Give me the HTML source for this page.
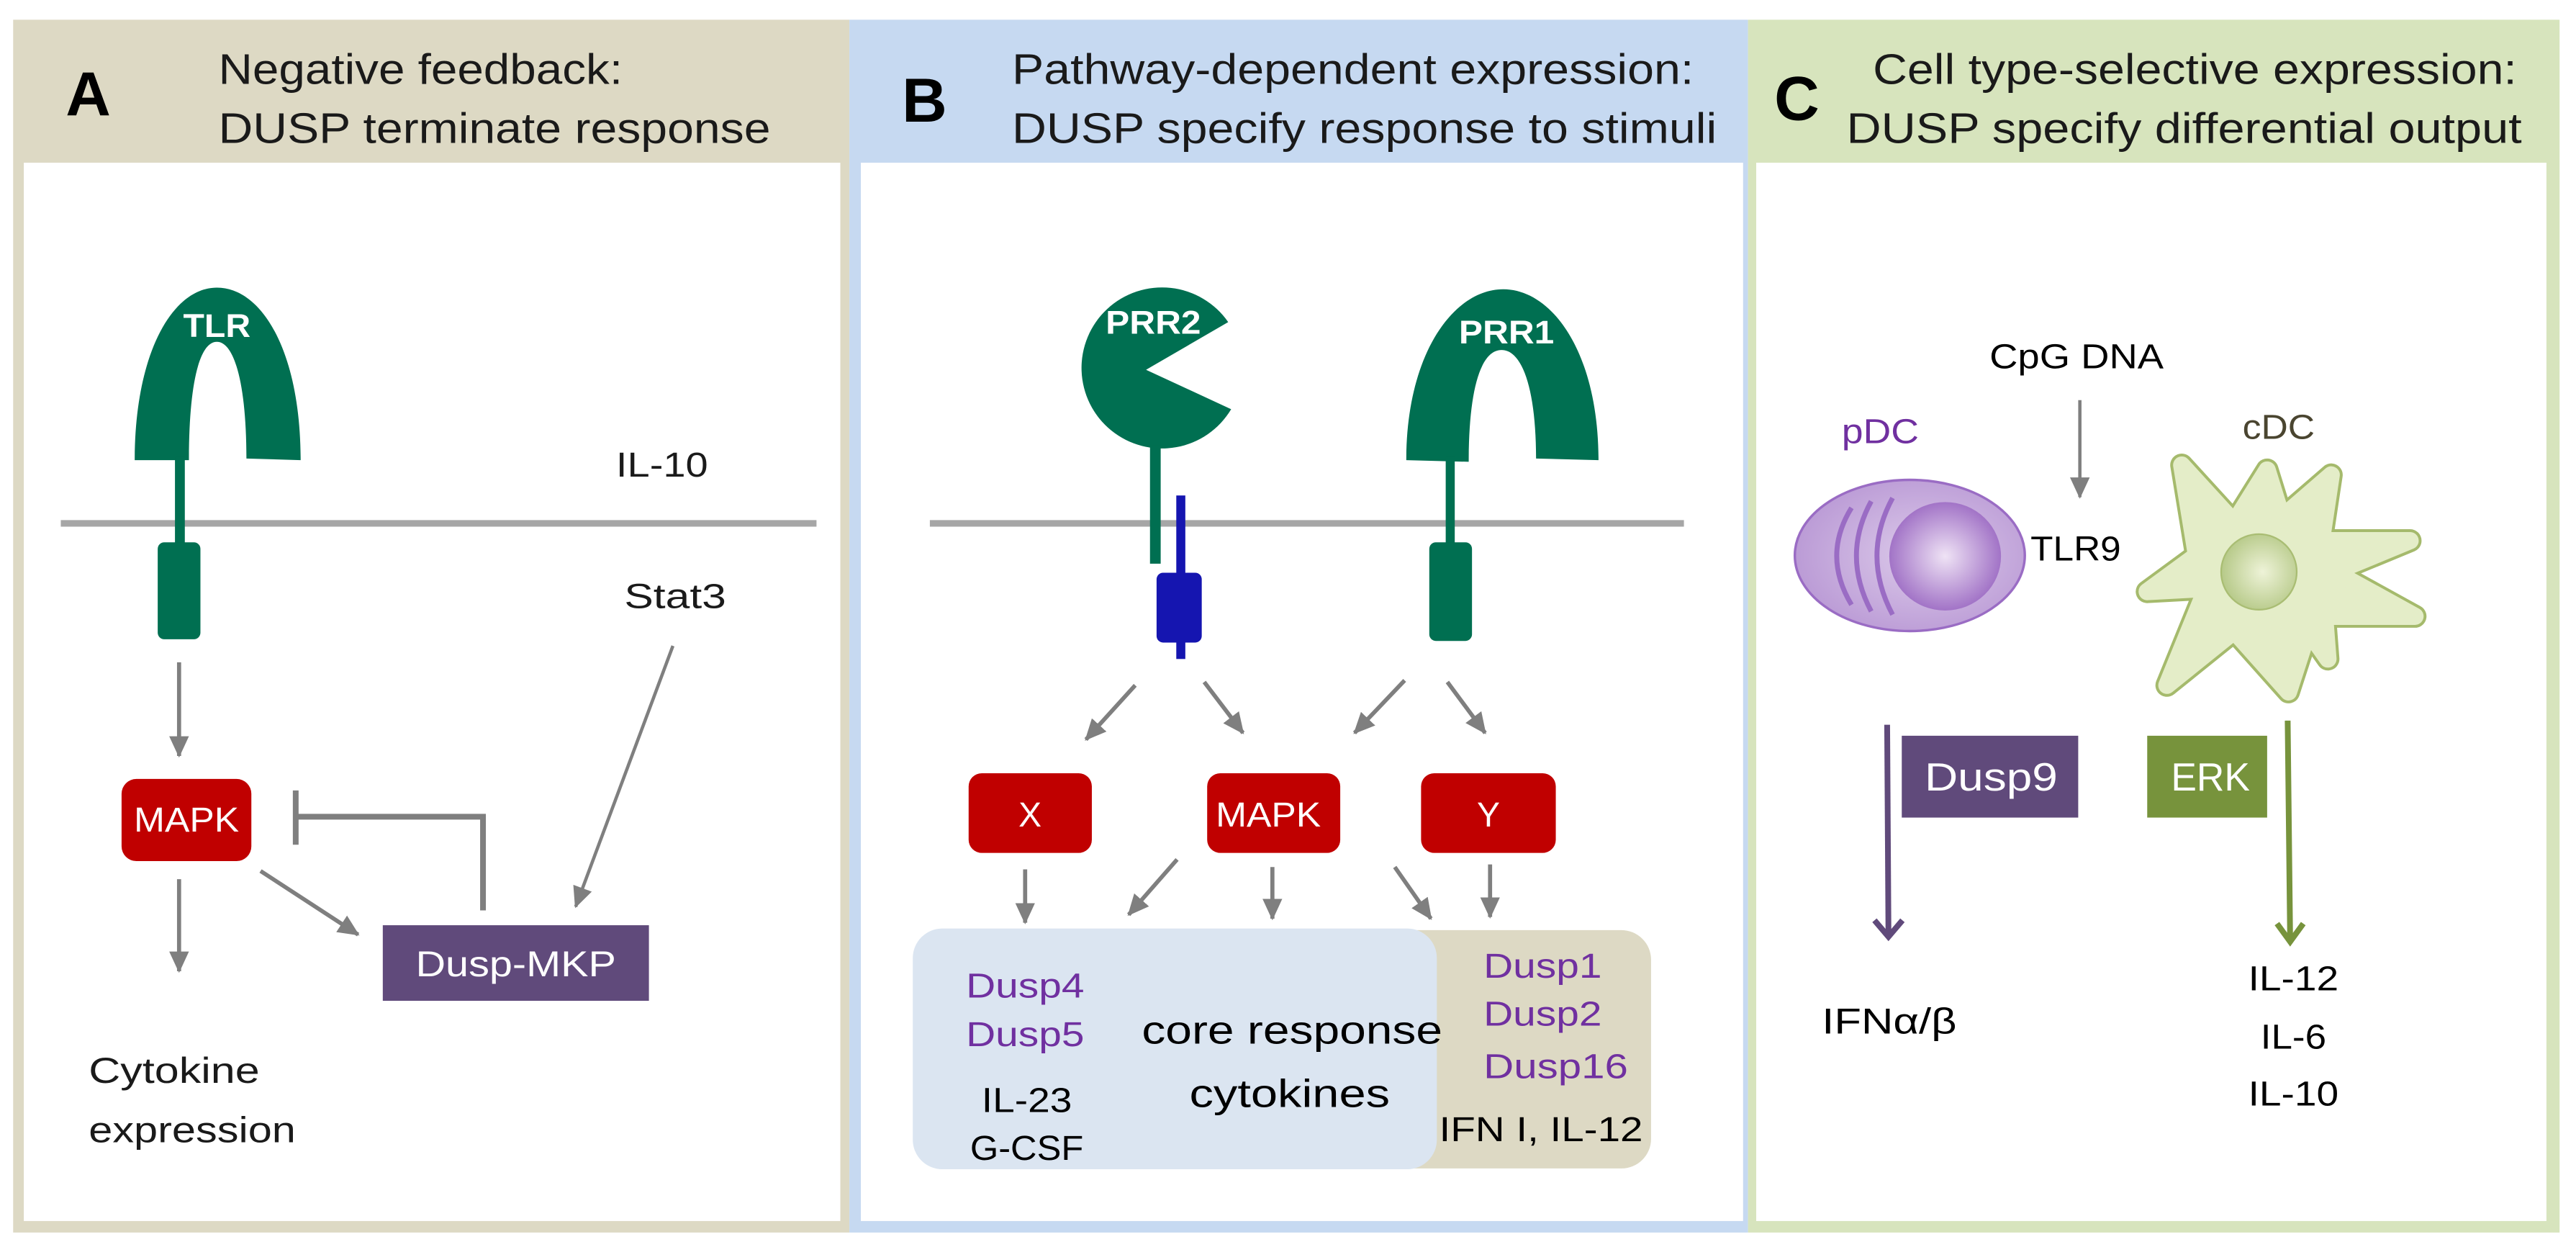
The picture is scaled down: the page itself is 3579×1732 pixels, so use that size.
<!DOCTYPE html>
<html><head><meta charset="utf-8"><style>
html,body{margin:0;padding:0;background:#fff;}
svg{display:block;}
text{font-family:"Liberation Sans",sans-serif;}
</style></head><body>
<svg width="3579" height="1732" viewBox="0 0 1568 758.8" preserveAspectRatio="none" xmlns="http://www.w3.org/2000/svg">
<defs>
<marker id="ag" markerUnits="userSpaceOnUse" markerWidth="14" markerHeight="14" refX="12" refY="6" orient="auto" viewBox="0 0 14 12">
<path d="M0,0 L13,6 L0,12 Z" fill="#7f7f7f"/></marker>
<radialGradient id="pn" cx="0.5" cy="0.5" r="0.55"><stop offset="0" stop-color="#efe3f5"/><stop offset="1" stop-color="#9a68c2"/></radialGradient>
<radialGradient id="pc" cx="0.55" cy="0.5" r="0.6"><stop offset="0" stop-color="#dccaea"/><stop offset="1" stop-color="#b897d4"/></radialGradient>
<radialGradient id="cn" cx="0.55" cy="0.5" r="0.55"><stop offset="0" stop-color="#eef3d8"/><stop offset="1" stop-color="#b6c988"/></radialGradient>
</defs>

<rect x="8" y="12" width="509" height="738" fill="#ddd9c4"/>
<rect x="14.5" y="99" width="497" height="644" fill="#fff"/>
<rect x="517" y="12" width="547" height="738" fill="#c6d9f1"/>
<rect x="524" y="99" width="537" height="644" fill="#fff"/>
<rect x="1064" y="12" width="494" height="738" fill="#d7e4bd"/>
<rect x="1069" y="99" width="481" height="644" fill="#fff"/>

<text x="40" y="70" font-size="38" font-weight="bold" fill="#000">A</text>
<text x="133" y="51" font-size="26" fill="#1a1a1a" textLength="246" lengthAdjust="spacingAndGlyphs">Negative feedback:</text>
<text x="133" y="87" font-size="26" fill="#1a1a1a" textLength="336" lengthAdjust="spacingAndGlyphs">DUSP terminate response</text>
<text x="549" y="74" font-size="38" font-weight="bold" fill="#000">B</text>
<text x="616" y="51" font-size="26" fill="#1a1a1a" textLength="415" lengthAdjust="spacingAndGlyphs">Pathway-dependent expression:</text>
<text x="616" y="87" font-size="26" fill="#1a1a1a" textLength="429" lengthAdjust="spacingAndGlyphs">DUSP specify response to stimuli</text>
<text x="1080" y="73" font-size="38" font-weight="bold" fill="#000">C</text>
<text x="1140" y="51" font-size="26" fill="#1a1a1a" textLength="392" lengthAdjust="spacingAndGlyphs">Cell type-selective expression:</text>
<text x="1124" y="87" font-size="26" fill="#1a1a1a" textLength="411" lengthAdjust="spacingAndGlyphs">DUSP specify differential output</text>

<!-- Panel A -->
<line x1="37" y1="318.5" x2="497" y2="318.5" stroke="#a6a6a6" stroke-width="4"/>
<path d="M82,280 C82,215 105,175 132,175 C160,175 183,215 183,280 L150,279 C150,235 143,208 132,208 C121,208 115,235 115,280 Z" fill="#006f51"/>
<text x="132" y="205" font-size="20" font-weight="bold" fill="#fff" text-anchor="middle" textLength="41" lengthAdjust="spacingAndGlyphs">TLR</text>
<rect x="106.5" y="278" width="6" height="55" fill="#006f51"/>
<rect x="96" y="330" width="26" height="59" rx="4" fill="#006f51"/>
<line x1="109" y1="403" x2="109" y2="460" stroke="#7f7f7f" stroke-width="2.5" marker-end="url(#ag)"/>
<rect x="74" y="474" width="79" height="50" rx="9" fill="#c00000"/>
<text x="113.5" y="506" font-size="21" fill="#fff" text-anchor="middle" textLength="64" lengthAdjust="spacingAndGlyphs">MAPK</text>
<polyline points="180,497 294,497 294,554" fill="none" stroke="#7f7f7f" stroke-width="3.5"/>
<line x1="180" y1="481" x2="180" y2="514" stroke="#7f7f7f" stroke-width="3.5"/>
<line x1="158.6" y1="530" x2="218" y2="568.7" stroke="#7f7f7f" stroke-width="2.5" marker-end="url(#ag)"/>
<line x1="109" y1="535" x2="109" y2="591" stroke="#7f7f7f" stroke-width="2.5" marker-end="url(#ag)"/>
<rect x="233" y="563" width="162" height="46" fill="#604a7b"/>
<text x="314" y="594" font-size="22" fill="#fff" text-anchor="middle" textLength="122" lengthAdjust="spacingAndGlyphs">Dusp-MKP</text>
<text x="375" y="290" font-size="21" fill="#1a1a1a" textLength="56" lengthAdjust="spacingAndGlyphs">IL-10</text>
<text x="380" y="370" font-size="21" fill="#1a1a1a" textLength="62" lengthAdjust="spacingAndGlyphs">Stat3</text>
<line x1="409.6" y1="393" x2="350.4" y2="551.7" stroke="#7f7f7f" stroke-width="2" marker-end="url(#ag)"/>
<text x="54" y="659" font-size="22" fill="#1a1a1a" textLength="104" lengthAdjust="spacingAndGlyphs">Cytokine</text>
<text x="54" y="695" font-size="22" fill="#1a1a1a" textLength="126" lengthAdjust="spacingAndGlyphs">expression</text>

<!-- Panel B -->
<line x1="566" y1="318.5" x2="1025" y2="318.5" stroke="#a6a6a6" stroke-width="4"/>
<path d="M697.6,225 L747.6,196 A49,49 0 1 0 749.4,249 Z" fill="#006f51"/>
<text x="702" y="203" font-size="20" font-weight="bold" fill="#fff" text-anchor="middle" textLength="58" lengthAdjust="spacingAndGlyphs">PRR2</text>
<rect x="700" y="271" width="6.5" height="72" fill="#006f51"/>
<rect x="716" y="301.5" width="5.5" height="99.5" fill="#1515b0"/>
<rect x="704" y="348.5" width="27.5" height="42.5" rx="4" fill="#1515b0"/>
<path d="M856,280 C856,215 885,176 915,176 C945,176 973,215 973,280 L935,279 C935,238 927,213 914,213 C901,213 894,238 894,281 Z" fill="#006f51"/>
<text x="917" y="209" font-size="20" font-weight="bold" fill="#fff" text-anchor="middle" textLength="58" lengthAdjust="spacingAndGlyphs">PRR1</text>
<rect x="880" y="278" width="5.5" height="55" fill="#006f51"/>
<rect x="870" y="330" width="26" height="60" rx="4" fill="#006f51"/>
<line x1="691" y1="417" x2="661" y2="450" stroke="#7f7f7f" stroke-width="2.5" marker-end="url(#ag)"/>
<line x1="733" y1="415" x2="756.6" y2="446" stroke="#7f7f7f" stroke-width="2.5" marker-end="url(#ag)"/>
<line x1="855" y1="414" x2="824.5" y2="446" stroke="#7f7f7f" stroke-width="2.5" marker-end="url(#ag)"/>
<line x1="881" y1="415" x2="904" y2="446" stroke="#7f7f7f" stroke-width="2.5" marker-end="url(#ag)"/>
<rect x="589.6" y="470.5" width="75" height="48.5" rx="8" fill="#c00000"/>
<text x="627" y="503" font-size="21" fill="#fff" text-anchor="middle">X</text>
<rect x="734.8" y="470.5" width="81" height="48.5" rx="8" fill="#c00000"/>
<text x="772" y="503" font-size="21" fill="#fff" text-anchor="middle" textLength="64" lengthAdjust="spacingAndGlyphs">MAPK</text>
<rect x="865" y="470.5" width="82" height="48.5" rx="8" fill="#c00000"/>
<text x="906" y="503" font-size="21" fill="#fff" text-anchor="middle">Y</text>
<rect x="828" y="566" width="177" height="145" rx="18" fill="#ddd9c4"/>
<rect x="555.6" y="565" width="319" height="146.5" rx="18" fill="#dbe5f1"/>
<line x1="624" y1="529" x2="624" y2="561.5" stroke="#7f7f7f" stroke-width="2.5" marker-end="url(#ag)"/>
<line x1="716.5" y1="523" x2="687" y2="556.6" stroke="#7f7f7f" stroke-width="2.5" marker-end="url(#ag)"/>
<line x1="774.5" y1="527.6" x2="774.5" y2="559" stroke="#7f7f7f" stroke-width="2.5" marker-end="url(#ag)"/>
<line x1="849" y1="527.6" x2="871" y2="559" stroke="#7f7f7f" stroke-width="2.5" marker-end="url(#ag)"/>
<line x1="907" y1="526" x2="907" y2="558" stroke="#7f7f7f" stroke-width="2.5" marker-end="url(#ag)"/>
<text x="588" y="607" font-size="21" fill="#7030a0" textLength="72" lengthAdjust="spacingAndGlyphs">Dusp4</text>
<text x="588" y="636.5" font-size="21" fill="#7030a0" textLength="72" lengthAdjust="spacingAndGlyphs">Dusp5</text>
<text x="625" y="676.6" font-size="21" fill="#000" text-anchor="middle" textLength="55" lengthAdjust="spacingAndGlyphs">IL-23</text>
<text x="625" y="705.7" font-size="21" fill="#000" text-anchor="middle" textLength="69" lengthAdjust="spacingAndGlyphs">G-CSF</text>
<text x="695" y="635" font-size="24" fill="#000" textLength="183" lengthAdjust="spacingAndGlyphs">core response</text>
<text x="785" y="673.7" font-size="24" fill="#000" text-anchor="middle" textLength="122" lengthAdjust="spacingAndGlyphs">cytokines</text>
<text x="903" y="595" font-size="21" fill="#7030a0" textLength="72" lengthAdjust="spacingAndGlyphs">Dusp1</text>
<text x="903" y="624" font-size="21" fill="#7030a0" textLength="72" lengthAdjust="spacingAndGlyphs">Dusp2</text>
<text x="903" y="656" font-size="21" fill="#7030a0" textLength="88" lengthAdjust="spacingAndGlyphs">Dusp16</text>
<text x="876" y="694.5" font-size="21" fill="#000" textLength="124" lengthAdjust="spacingAndGlyphs">IFN I, IL-12</text>

<!-- Panel C -->
<text x="1211" y="224" font-size="21" fill="#000" textLength="106" lengthAdjust="spacingAndGlyphs">CpG DNA</text>
<line x1="1266" y1="243.5" x2="1266" y2="302.5" stroke="#7f7f7f" stroke-width="2" marker-end="url(#ag)"/>
<text x="1121" y="269.6" font-size="21" fill="#7030a0" textLength="47" lengthAdjust="spacingAndGlyphs">pDC</text>
<ellipse cx="1162.5" cy="338" rx="70" ry="46" fill="url(#pc)" stroke="#9a6cc4" stroke-width="1.5"/>
<ellipse cx="1184" cy="338.5" rx="34" ry="33" fill="url(#pn)"/>
<path d="M1127,309 Q1109,338 1127,368" fill="none" stroke="#9a6cc4" stroke-width="3"/>
<path d="M1139,305 Q1121,338 1139,372" fill="none" stroke="#9a6cc4" stroke-width="3"/>
<path d="M1152,303 Q1133,338 1152,374" fill="none" stroke="#9a6cc4" stroke-width="3"/>
<text x="1236" y="341" font-size="21" fill="#000" textLength="55" lengthAdjust="spacingAndGlyphs">TLR9</text>
<text x="1365" y="267" font-size="21" fill="#4a4530" textLength="44" lengthAdjust="spacingAndGlyphs">cDC</text>
<path d="M1337,338 L1328,283 L1360,318 L1380,286 L1389,315 L1419,289 L1413,329 L1467,329 L1421,348 L1470,375 L1415,375 L1417,401 L1405,384 L1393,421 L1360,384 L1319,417 L1343,358 L1307,360 Z" fill="#e2ebc4" stroke="#a5ba6c" stroke-width="14" stroke-linejoin="round"/>
<path d="M1337,338 L1328,283 L1360,318 L1380,286 L1389,315 L1419,289 L1413,329 L1467,329 L1421,348 L1470,375 L1415,375 L1417,401 L1405,384 L1393,421 L1360,384 L1319,417 L1343,358 L1307,360 Z" fill="#e4edc8" stroke="#e4edc8" stroke-width="10.5" stroke-linejoin="round"/>
<ellipse cx="1375" cy="348" rx="23" ry="23" fill="url(#cn)" stroke="#a9bd73" stroke-width="1"/>
<line x1="1148.7" y1="441" x2="1149.5" y2="569" stroke="#604a7b" stroke-width="3.5"/>
<polyline points="1141,560 1149.5,570 1158,560" fill="none" stroke="#604a7b" stroke-width="3.5"/>
<rect x="1157.6" y="447.7" width="107.4" height="49.8" fill="#604a7b"/>
<text x="1212" y="481" font-size="24" fill="#fff" text-anchor="middle" textLength="81" lengthAdjust="spacingAndGlyphs">Dusp9</text>
<rect x="1307" y="447.7" width="73" height="49.8" fill="#77933c"/>
<text x="1345.5" y="481" font-size="24" fill="#fff" text-anchor="middle" textLength="48" lengthAdjust="spacingAndGlyphs">ERK</text>
<line x1="1392.5" y1="438.5" x2="1394" y2="572" stroke="#77933c" stroke-width="3.5"/>
<polyline points="1386,562 1394,573 1402,562" fill="none" stroke="#77933c" stroke-width="3.5"/>
<text x="1109" y="629" font-size="22" fill="#000" textLength="82" lengthAdjust="spacingAndGlyphs">IFNα/β</text>
<text x="1396" y="602.6" font-size="21" fill="#000" text-anchor="middle" textLength="55" lengthAdjust="spacingAndGlyphs">IL-12</text>
<text x="1396" y="638" font-size="21" fill="#000" text-anchor="middle" textLength="40" lengthAdjust="spacingAndGlyphs">IL-6</text>
<text x="1396" y="672.7" font-size="21" fill="#000" text-anchor="middle" textLength="55" lengthAdjust="spacingAndGlyphs">IL-10</text>
</svg>
</body></html>
